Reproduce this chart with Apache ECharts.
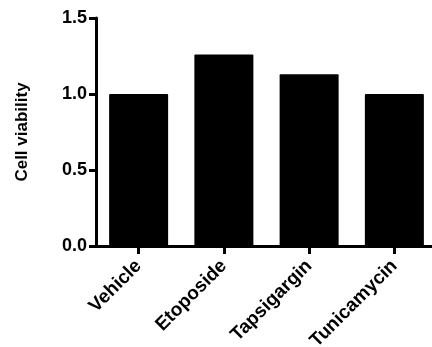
<!DOCTYPE html>
<html>
<head>
<meta charset="utf-8">
<script src="https://cdn.jsdelivr.net/npm/echarts@6/dist/echarts.min.js"></script>
<style>
html,body{margin:0;padding:0;background:#fff;}
#chart{width:432px;height:347px;}
</style>
</head>
<body>
<div id="chart"></div>
<script>
const categories = ['Vehicle', 'Etoposide', 'Tapsigargin', 'Tunicamycin'];
const viability = [1.0, 1.26, 1.13, 1.0];
const yTickLabels = ['0.0', '0.5', '1.0', '1.5'];
const yAxisTitle = 'Cell viability';

const FONT = '"Liberation Sans", Arial, Helvetica, sans-serif';
const chart = echarts.init(document.getElementById('chart'), null, {renderer: 'canvas'});
chart.setOption({
  animation: false,
  backgroundColor: '#ffffff',
  grid: {left: 96, right: -5, top: 18, bottom: 101, containLabel: false, outerBoundsMode: 'none'},
  xAxis: {
    type: 'category',
    data: categories,
    axisLine: {show: true, lineStyle: {color: '#000', width: 3}},
    axisTick: {show: true, alignWithLabel: true, length: 8, lineStyle: {color: '#000', width: 3}},
    axisLabel: {
      rotate: 45, margin: 17, interval: 0,
      color: '#000', fontSize: 19, fontWeight: 'bold', fontFamily: FONT
    },
    splitLine: {show: false}
  },
  yAxis: {
    type: 'value',
    min: 0, max: 1.5, interval: 0.5,
    name: yAxisTitle,
    nameLocation: 'middle',
    nameGap: 65,
    nameRotate: 90,
    nameTextStyle: {color: '#000', fontSize: 17, fontWeight: 'bold', fontFamily: FONT},
    axisLine: {show: true, lineStyle: {color: '#000', width: 3}},
    axisTick: {show: true, length: 7, lineStyle: {color: '#000', width: 3}},
    axisLabel: {
      margin: 9,
      color: '#000', fontSize: 18, fontWeight: 'bold', fontFamily: FONT,
      formatter: function (v) { return yTickLabels[Math.round(v / 0.5)]; }
    },
    splitLine: {show: false}
  },
  series: [{
    type: 'bar',
    data: viability,
    barWidth: 59,
    itemStyle: {color: '#000', borderRadius: 1}
  }]
});
</script>
</body>
</html>
